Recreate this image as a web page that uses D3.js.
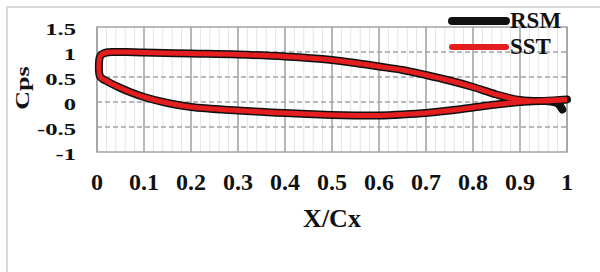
<!DOCTYPE html>
<html>
<head>
<meta charset="utf-8">
<script src="https://cdn.jsdelivr.net/npm/d3@7"></script>
<style>
  body { margin: 0; background: #fff; }
  svg text { font-family: "Times New Roman", "Liberation Serif", Times, serif; font-weight: bold; fill: #111; }
</style>
</head>
<body>
<svg id="chart" width="600" height="272"></svg>
<script>
// chart values
var xTicks = [0, 0.1, 0.2, 0.3, 0.4, 0.5, 0.6, 0.7, 0.8, 0.9, 1];
var yTicks = [-1, -0.5, 0, 0.5, 1, 1.5];
var yTickLabels = ["-1", "-0.5", "0", "0.5", "1", "1.5"];

// upper surface, trailing edge -> leading edge
var upperX = [1.0, 0.95, 0.9, 0.85, 0.8, 0.75, 0.7, 0.65, 0.6, 0.55, 0.5, 0.4, 0.3, 0.2, 0.1, 0.06, 0.035, 0.02, 0.01, 0.006];
var sstUpper = [0.05, 0.02, 0.04, 0.15, 0.3, 0.43, 0.54, 0.64, 0.71, 0.78, 0.84, 0.91, 0.95, 0.97, 0.99, 1.0, 1.0, 0.99, 0.95, 0.9];
var rsmUpper = [0.05, 0.02, 0.04, 0.15, 0.3, 0.43, 0.54, 0.64, 0.71, 0.78, 0.84, 0.91, 0.95, 0.97, 0.99, 1.0, 1.0, 0.99, 0.95, 0.9];

// lower surface, leading edge -> trailing edge
var lowerX = [0.006, 0.012, 0.02, 0.03, 0.05, 0.07, 0.1, 0.15, 0.2, 0.3, 0.4, 0.5, 0.55, 0.6, 0.65, 0.7, 0.75, 0.8, 0.85, 0.9, 0.95, 1.0];
var sstLower = [0.52, 0.46, 0.42, 0.37, 0.28, 0.2, 0.1, -0.02, -0.1, -0.17, -0.22, -0.26, -0.27, -0.27, -0.25, -0.22, -0.17, -0.11, -0.05, 0.0, 0.03, 0.05];
var rsmLowerX = [0.006, 0.012, 0.02, 0.03, 0.05, 0.07, 0.1, 0.15, 0.2, 0.3, 0.4, 0.5, 0.55, 0.6, 0.65, 0.7, 0.75, 0.8, 0.85, 0.9, 0.95, 0.98, 0.99];
var rsmLower = [0.52, 0.46, 0.42, 0.37, 0.28, 0.2, 0.1, -0.02, -0.1, -0.17, -0.22, -0.26, -0.27, -0.27, -0.25, -0.22, -0.17, -0.11, -0.05, 0.0, 0.02, -0.03, -0.15];

var seriesNames = ["RSM", "SST"];
var seriesColors = ["#111111", "#e41e1e"];

(function () {
    var svg = d3.select("#chart");

    // outer frame (only top / left visible)
    svg.append("rect")
        .attr("x", 7).attr("y", 7)
        .attr("width", 640).attr("height", 320)
        .attr("fill", "none")
        .attr("stroke", "#d9d9d9")
        .attr("stroke-width", 2);

    var plotLeft = 97, plotRight = 567, plotTop = 27, plotBottom = 152;

    var x = d3.scaleLinear().domain([0, 1]).range([plotLeft, plotRight]);
    var y = d3.scaleLinear().domain([-1, 1.5]).range([plotBottom, plotTop]);

    // minor vertical grid
    var minor = d3.range(0, 51).map(function (i) { return i / 50; });
    svg.append("g").selectAll("line")
        .data(minor)
        .enter().append("line")
        .attr("x1", function (d) { return x(d); })
        .attr("x2", function (d) { return x(d); })
        .attr("y1", plotTop).attr("y2", plotBottom)
        .attr("stroke", "#e3e3e3")
        .attr("stroke-width", 1);

    // major vertical grid
    svg.append("g").selectAll("line")
        .data(xTicks)
        .enter().append("line")
        .attr("x1", function (d) { return x(d); })
        .attr("x2", function (d) { return x(d); })
        .attr("y1", plotTop).attr("y2", plotBottom)
        .attr("stroke", "#a3a3a3")
        .attr("stroke-width", 1.5);

    // dashed horizontal grid
    svg.append("g").selectAll("line")
        .data(yTicks.filter(function (d) { return d > -1 && d < 1.5; }))
        .enter().append("line")
        .attr("x1", plotLeft).attr("x2", plotRight)
        .attr("y1", function (d) { return y(d); })
        .attr("y2", function (d) { return y(d); })
        .attr("stroke", "#a3a3a3")
        .attr("stroke-width", 1.5)
        .attr("stroke-dasharray", "5,3");

    // plot border
    svg.append("rect")
        .attr("x", plotLeft).attr("y", plotTop)
        .attr("width", plotRight - plotLeft).attr("height", plotBottom - plotTop)
        .attr("fill", "none")
        .attr("stroke", "#a3a3a3")
        .attr("stroke-width", 1.5);

    // y tick labels (stretched like the original)
    svg.append("g").selectAll("text")
        .data(yTicks)
        .enter().append("text")
        .attr("transform", function (d) { return "translate(76," + (y(d) + 8) + ") scale(1.45,1)"; })
        .attr("text-anchor", "end")
        .attr("font-size", 17)
        .text(function (d, i) { return yTickLabels[i]; });

    // x tick labels
    svg.append("g").selectAll("text")
        .data(xTicks)
        .enter().append("text")
        .attr("x", function (d) { return x(d); })
        .attr("y", 190)
        .attr("text-anchor", "middle")
        .attr("font-size", 24)
        .text(function (d) { return d; });

    // axis titles
    svg.append("text")
        .attr("transform", "translate(29,88) rotate(-90) scale(1.45,1)")
        .attr("text-anchor", "middle")
        .attr("font-size", 18)
        .text("Cps");

    svg.append("text")
        .attr("x", (plotLeft + plotRight) / 2)
        .attr("y", 227)
        .attr("text-anchor", "middle")
        .attr("font-size", 26)
        .text("X/Cx");

    // curves
    function toPoints(ux, uy, lx, ly) {
        var pts = ux.map(function (d, i) { return [d, uy[i]]; });
        return pts.concat(lx.map(function (d, i) { return [d, ly[i]]; }));
    }

    var line = d3.line()
        .x(function (d) { return x(d[0]); })
        .y(function (d) { return y(d[1]); })
        .curve(d3.curveCatmullRom.alpha(0.5));

    svg.append("path")
        .datum(toPoints(upperX, rsmUpper, rsmLowerX, rsmLower))
        .attr("d", line)
        .attr("fill", "none")
        .attr("stroke", seriesColors[0])
        .attr("stroke-width", 8)
        .attr("stroke-linecap", "round")
        .attr("stroke-linejoin", "round");

    svg.append("path")
        .datum(toPoints(upperX, sstUpper, lowerX, sstLower))
        .attr("d", line)
        .attr("fill", "none")
        .attr("stroke", seriesColors[1])
        .attr("stroke-width", 5)
        .attr("stroke-linecap", "butt")
        .attr("stroke-linejoin", "round");

    // legend
    var legendY = [21, 47];
    var legend = svg.append("g").selectAll("g")
        .data(seriesNames)
        .enter().append("g");

    legend.append("line")
        .attr("x1", 452).attr("x2", 506)
        .attr("y1", function (d, i) { return legendY[i]; })
        .attr("y2", function (d, i) { return legendY[i]; })
        .attr("stroke", function (d, i) { return seriesColors[i]; })
        .attr("stroke-width", function (d, i) { return i == 0 ? 8 : 6; })
        .attr("stroke-linecap", "round");

    legend.append("text")
        .attr("x", 510)
        .attr("y", function (d, i) { return legendY[i] + 7; })
        .attr("font-size", 23)
        .text(function (d) { return d; });
})();
</script>
</body>
</html>
